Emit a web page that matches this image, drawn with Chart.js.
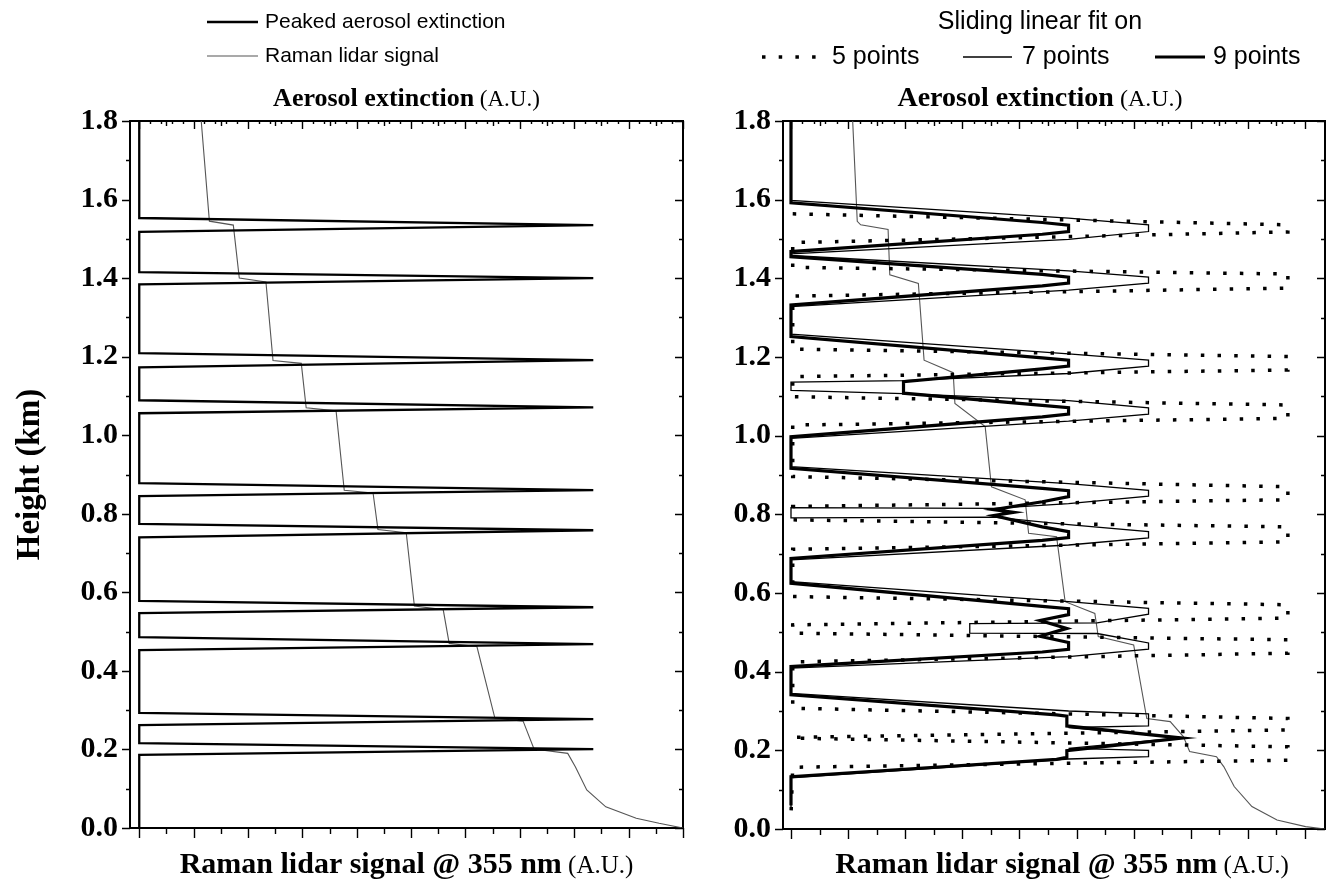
<!DOCTYPE html>
<html><head><meta charset="utf-8">
<script src="https://cdn.jsdelivr.net/npm/chart.js@4.4.1/dist/chart.umd.min.js"></script>
<style>
html,body{margin:0;padding:0;background:#fff;width:1330px;height:884px;overflow:hidden;}
.pane{position:absolute;top:0;}
</style></head><body>
<div class="pane" style="left:0;width:705px;height:884px"><canvas id="c1" width="705" height="884"></canvas></div>
<div class="pane" style="left:705px;width:625px;height:884px"><canvas id="c2" width="625" height="884"></canvas></div>
<script>
// ---------- tick values ----------
const heightTicks = [0.0, 0.2, 0.4, 0.6, 0.8, 1.0, 1.2, 1.4, 1.6, 1.8];
const heightMinor = [0.1, 0.3, 0.5, 0.7, 0.9, 1.1, 1.3, 1.5, 1.7];
const leftSignalMajor = [0, 1, 2, 3, 4, 5, 6, 7, 8, 9, 10];
const leftSignalMinor = [0.5, 1.5, 2.5, 3.5, 4.5, 5.5, 6.5, 7.5, 8.5, 9.5];
const rightSignalMajor = [0, 1, 2, 3, 4, 5, 6, 7, 8, 9];
const rightSignalMinor = [0.5, 1.5, 2.5, 3.5, 4.5, 5.5, 6.5, 7.5, 8.5];

// ---------- left panel data (signal units, height km) ----------
const peakedX = [0, 0, 8.35, 0, 0, 8.35, 0, 0, 8.35, 0, 0, 8.35, 0, 0, 8.35, 0, 0, 8.35, 0, 0, 8.35, 0, 0, 8.35, 0, 0, 8.35, 0, 0, 8.35, 0, 0];
const peakedY = [1.80, 1.553, 1.535, 1.518, 1.415, 1.400, 1.384, 1.209, 1.191, 1.173, 1.089, 1.071, 1.056, 0.878, 0.860, 0.845, 0.774, 0.758, 0.740, 0.578, 0.562, 0.547, 0.486, 0.468, 0.453, 0.293, 0.277, 0.262, 0.216, 0.201, 0.186, 0.0];
const ramanLeftX = [1.14, 1.29, 1.73, 1.84, 2.33, 2.46, 2.98, 3.07, 3.62, 3.77, 4.30, 4.39, 4.91, 5.06, 5.59, 5.70, 6.21, 6.54, 7.06, 7.26, 7.88, 8.02, 8.23, 8.58, 9.14, 9.56, 10.0];
const ramanLeftY = [1.80, 1.545, 1.535, 1.400, 1.390, 1.190, 1.183, 1.070, 1.062, 0.860, 0.853, 0.760, 0.752, 0.565, 0.556, 0.470, 0.462, 0.280, 0.272, 0.201, 0.190, 0.156, 0.097, 0.054, 0.025, 0.012, 0.0];

// ---------- right panel data ----------
const fit9X = [0, 0, 4.4, 4.86, 4.86, 4.4, 0, 0, 4.4, 4.86, 4.86, 4.4, 0, 0, 4.4, 4.86, 4.86, 4.4, 1.97, 1.97, 4.4, 4.86, 4.86, 4.4, 0, 0, 4.4, 4.86, 4.86, 4.4, 3.55, 3.9, 3.55, 4.4, 4.86, 4.86, 4.4, 0, 0, 4.4, 4.86, 4.86, 4.36, 4.83, 4.36, 4.86, 4.86, 4.4, 0, 0, 4.65, 4.83, 4.83, 6.85, 4.83, 4.83, 4.65, 0, 0];
const fit9Y = [1.80, 1.592, 1.542, 1.535, 1.519, 1.512, 1.468, 1.455, 1.410, 1.403, 1.388, 1.381, 1.332, 1.252, 1.198, 1.192, 1.177, 1.170, 1.137, 1.108, 1.077, 1.071, 1.055, 1.048, 0.997, 0.917, 0.866, 0.860, 0.845, 0.832, 0.812, 0.805, 0.797, 0.768, 0.756, 0.741, 0.734, 0.688, 0.625, 0.566, 0.560, 0.545, 0.530, 0.510, 0.490, 0.474, 0.457, 0.450, 0.413, 0.341, 0.290, 0.287, 0.262, 0.231, 0.199, 0.182, 0.177, 0.133, 0.06];
const fit7X = [0, 0, 4.86, 6.26, 6.26, 4.86, 0, 0, 4.86, 6.26, 6.26, 4.86, 0, 0, 4.86, 6.26, 6.26, 4.86, 1.97, 0, 0, 1.97, 4.86, 6.26, 6.26, 4.86, 0, 0, 4.86, 6.26, 6.26, 4.86, 3.55, 0, 0, 3.55, 4.86, 6.26, 6.26, 4.86, 0, 0, 4.86, 6.26, 6.26, 5.36, 3.13, 3.13, 5.36, 6.26, 6.26, 4.86, 0, 0, 4.86, 6.26, 6.26, 4.86, 6.85, 4.86, 6.26, 6.26, 4.86, 0, 0];
const fit7Y = [1.80, 1.598, 1.553, 1.536, 1.519, 1.499, 1.462, 1.458, 1.419, 1.403, 1.388, 1.370, 1.328, 1.258, 1.208, 1.192, 1.177, 1.158, 1.140, 1.136, 1.115, 1.107, 1.089, 1.071, 1.055, 1.037, 0.993, 0.921, 0.878, 0.861, 0.846, 0.827, 0.815, 0.817, 0.791, 0.793, 0.774, 0.756, 0.740, 0.722, 0.684, 0.629, 0.578, 0.561, 0.546, 0.524, 0.522, 0.498, 0.497, 0.473, 0.457, 0.438, 0.409, 0.345, 0.300, 0.293, 0.262, 0.258, 0.232, 0.205, 0.200, 0.184, 0.178, 0.130, 0.05];
const fit5X = [0.03, 8.7, 8.7, 0.03, 0.03, 8.7, 8.7, 0.03, 0.03, 8.7, 8.7, 0.03, 0.03, 8.7, 8.7, 0.03, 0.03, 8.7, 8.7, 0.03, 0.03, 8.7, 8.7, 0.03, 0.03, 8.7, 8.7, 0.03, 0.03, 8.7, 8.7, 0.03, 0.03, 8.7, 8.7, 0.03, 0.03, 8.7, 8.7, 0.03, 0.0];
const fit5Y = [1.564, 1.536, 1.518, 1.491, 1.428, 1.411, 1.375, 1.355, 1.220, 1.201, 1.167, 1.150, 1.099, 1.078, 1.044, 1.027, 0.896, 0.870, 0.837, 0.820, 0.786, 0.768, 0.730, 0.711, 0.591, 0.570, 0.536, 0.519, 0.498, 0.481, 0.447, 0.425, 0.307, 0.281, 0.252, 0.233, 0.231, 0.209, 0.175, 0.157, 0.036];
const ramanRightX = [1.08, 1.16, 1.22, 1.70, 1.73, 2.23, 2.33, 2.84, 2.87, 3.40, 3.51, 4.10, 4.16, 4.65, 4.80, 5.32, 5.38, 6.00, 6.23, 6.64, 6.87, 6.98, 7.45, 7.58, 7.76, 8.07, 8.51, 9.01, 9.35];
const ramanRightY = [1.80, 1.545, 1.536, 1.524, 1.409, 1.387, 1.192, 1.160, 1.082, 1.023, 0.870, 0.837, 0.752, 0.743, 0.578, 0.548, 0.489, 0.468, 0.281, 0.273, 0.235, 0.197, 0.184, 0.158, 0.108, 0.057, 0.023, 0.006, 0.0];

const pts = (xs, ys) => xs.map((x, i) => ({x, y: ys[i]}));

const SERIF = '"Liberation Serif", "Times New Roman", serif';
const SANS = '"Liberation Sans", Arial, sans-serif';

function drawMixed(ctx, parts, cx, y) {
  let total = 0;
  parts.forEach(p => { ctx.font = p.font; p.w = ctx.measureText(p.text).width; total += p.w; });
  let x = cx - total / 2;
  ctx.textAlign = 'left';
  ctx.textBaseline = 'alphabetic';
  parts.forEach(p => { ctx.font = p.font; ctx.fillText(p.text, x, y); x += p.w; });
}

const decor = {
  id: 'decor',
  afterDraw(chart, args, o) {
    const ctx = chart.ctx, a = chart.chartArea;
    const xs = chart.scales.x, ys = chart.scales.y;
    ctx.save();
    ctx.strokeStyle = '#000';
    ctx.fillStyle = '#000';
    ctx.lineWidth = 1.4;
    ctx.beginPath();
    o.xMajor.forEach(v => { const p = Math.round(xs.getPixelForValue(v)) + 0.5;
      ctx.moveTo(p, a.bottom); ctx.lineTo(p, a.bottom + 10);
      ctx.moveTo(p, a.top); ctx.lineTo(p, a.top + 8); });
    o.xMinor.forEach(v => { const p = Math.round(xs.getPixelForValue(v)) + 0.5;
      ctx.moveTo(p, a.bottom); ctx.lineTo(p, a.bottom + 6);
      ctx.moveTo(p, a.top); ctx.lineTo(p, a.top + 5); });
    o.xTopFine.forEach(v => { const p = Math.round(xs.getPixelForValue(v)) + 0.5;
      ctx.moveTo(p, a.top); ctx.lineTo(p, a.top + 3); });
    heightTicks.forEach(v => { const p = Math.round(ys.getPixelForValue(v)) + 0.5;
      ctx.moveTo(a.left - 8, p); ctx.lineTo(a.left, p);
      ctx.moveTo(a.right - 8, p); ctx.lineTo(a.right, p); });
    heightMinor.forEach(v => { const p = Math.round(ys.getPixelForValue(v)) + 0.5;
      ctx.moveTo(a.left - 4, p); ctx.lineTo(a.left, p);
      ctx.moveTo(a.right - 4, p); ctx.lineTo(a.right, p); });
    ctx.stroke();

    // axis titles
    const cx = (a.left + a.right) / 2;
    const t = o.titles;
    drawMixed(ctx, [{text: 'Aerosol extinction', font: 'bold ' + t.topBold + 'px ' + SERIF}, {text: ' (A.U.)', font: t.topReg + 'px ' + SERIF}], cx + t.topShift, 106);
    drawMixed(ctx, [{text: 'Raman lidar signal @ 355 nm', font: 'bold ' + t.botBold + 'px ' + SERIF}, {text: ' (A.U.)', font: t.botReg + 'px ' + SERIF}], cx + t.bottomShift, 873);
    if (o.yTitle) {
      ctx.save();
      ctx.translate(39, (a.top + a.bottom) / 2);
      ctx.rotate(-Math.PI / 2);
      drawMixed(ctx, [{text: o.yTitle, font: 'bold 33px ' + SERIF}], 0, 0);
      ctx.restore();
    }

    // legend
    ctx.textBaseline = 'middle';
    ctx.font = o.legendFont + 'px ' + SANS;
    (o.legend || []).forEach(item => {
      if (item.dataset !== undefined) {
        const ds = chart.data.datasets[item.dataset];
        ctx.save();
        ctx.strokeStyle = ds.borderColor;
        ctx.lineWidth = ds.borderWidth;
        ctx.setLineDash(ds.borderDash || []);
        ctx.beginPath();
        ctx.moveTo(item.x1, item.y); ctx.lineTo(item.x2, item.y);
        ctx.stroke();
        ctx.restore();
      }
      ctx.textAlign = item.align || 'left';
      ctx.fillText(item.text, item.tx, item.y);
    });
    ctx.restore();
  }
};

function baseScales(xmin, xmax, topH, bottomH, leftW) {
  const border = {display: true, color: '#000', width: 2};
  const noGrid = {display: false, drawTicks: false};
  return {
    x: {type: 'linear', position: 'bottom', min: xmin, max: xmax, ticks: {display: false}, grid: noGrid, border,
        afterFit: s => { s.height = bottomH; }},
    xTop: {type: 'linear', position: 'top', min: xmin, max: xmax, ticks: {display: false}, grid: noGrid, border,
        afterFit: s => { s.height = topH; }},
    y: {type: 'linear', position: 'left', min: 0, max: 1.8, grid: noGrid, border,
        afterBuildTicks: s => { s.ticks = heightTicks.map(v => ({value: v})); },
        ticks: {color: '#000', padding: 12, font: {family: SERIF, weight: 'bold', size: 30}, callback: v => Number(v).toFixed(1)},
        afterFit: s => { s.width = leftW; }},
    y2: {type: 'linear', position: 'right', min: 0, max: 1.8, ticks: {display: false}, grid: noGrid, border,
        afterFit: s => { s.width = 0; }}
  };
}

const line = (data, color, width, extra) => Object.assign({
  data, showLine: true, borderColor: color, backgroundColor: color, borderWidth: width,
  pointRadius: 0, tension: 0, fill: false, xAxisID: 'x', yAxisID: 'y'
}, extra || {});

const fineTop = (maxV) => { const arr = []; for (let i = 0; i < maxV * 5; i++) { if (i % 5 !== 0) arr.push(i / 5); } return arr; };

new Chart(document.getElementById('c1'), {
  type: 'scatter',
  data: {datasets: [
    line(pts(peakedX, peakedY), '#000', 2.3, {label: 'Peaked aerosol extinction'}),
    line(pts(ramanLeftX, ramanLeftY), '#555', 1.1, {label: 'Raman lidar signal'})
  ]},
  options: {
    responsive: false, animation: false,
    layout: {padding: {left: 0, right: 22, top: 0, bottom: 0}},
    scales: baseScales(-0.17, 10, 121, 56, 130),
    plugins: {legend: {display: false}, tooltip: {enabled: false},
      decor: {xMajor: leftSignalMajor, xMinor: leftSignalMinor, xTopFine: fineTop(10), yTitle: 'Height (km)', legendFont: 21,
        titles: {topBold: 26, topReg: 23, botBold: 30, botReg: 25, topShift: 0, bottomShift: 0},
        legend: [
          {dataset: 0, x1: 207, x2: 258, y: 22, tx: 265, text: 'Peaked aerosol extinction'},
          {dataset: 1, x1: 207, x2: 258, y: 56, tx: 265, text: 'Raman lidar signal'}
        ]}}
  },
  plugins: [decor]
});

new Chart(document.getElementById('c2'), {
  type: 'scatter',
  data: {datasets: [
    line(pts(fit9X, fit9Y), '#000', 3.2, {label: '9 points'}),
    line(pts(fit7X, fit7Y), '#000', 1.3, {label: '7 points'}),
    line(pts(fit5X, fit5Y), '#000', 3.5, {label: '5 points', borderDash: [3.5, 13.2], borderCapStyle: 'butt'}),
    line(pts(ramanRightX, ramanRightY), '#555', 1.1, {label: 'Raman lidar signal'})
  ]},
  options: {
    responsive: false, animation: false,
    layout: {padding: {left: 0, right: 5, top: 0, bottom: 0}},
    scales: baseScales(-0.14, 9.35, 121, 55, 78),
    plugins: {legend: {display: false}, tooltip: {enabled: false},
      decor: {xMajor: rightSignalMajor, xMinor: rightSignalMinor, xTopFine: fineTop(9), yTitle: null, legendFont: 25,
        titles: {topBold: 28, topReg: 24, botBold: 30, botReg: 25, topShift: -14, bottomShift: 8},
        legend: [
          {x1: 0, x2: 0, y: 22, tx: 335, align: 'center', text: 'Sliding linear fit on'},
          {dataset: 2, x1: 57, x2: 120, y: 57, tx: 127, text: '5 points'},
          {dataset: 1, x1: 258, x2: 307, y: 57, tx: 317, text: '7 points'},
          {dataset: 0, x1: 450, x2: 500, y: 57, tx: 508, text: '9 points'}
        ]}}
  },
  plugins: [decor]
});
</script>
</body></html>
